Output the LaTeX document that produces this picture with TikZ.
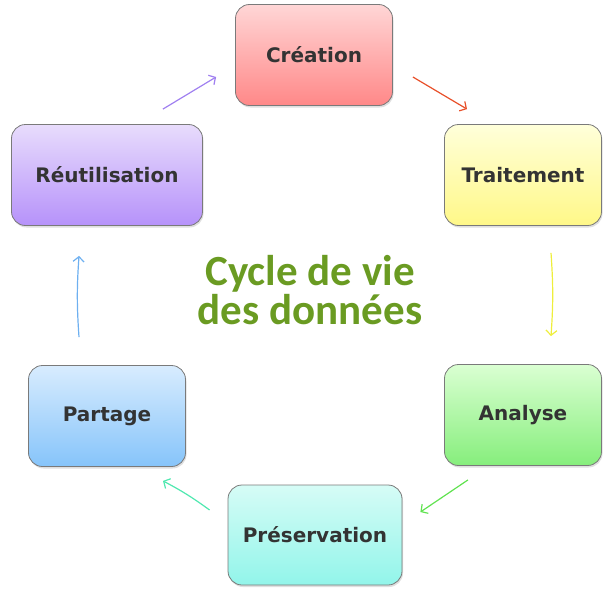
\documentclass[tikz,border=0pt]{standalone}
\usepackage{fontspec}
\newfontfamily\stagefont{DejaVu Sans}
\newfontfamily\titlefont{Carlito}
\usetikzlibrary{arrows.meta,shadows}

\definecolor{txtgray}{HTML}{333333}
\definecolor{titlegreen}{HTML}{6A9B22}
% box fills, top and bottom
\definecolor{creaTop}{RGB}{255,214,214}   \definecolor{creaBot}{RGB}{255,136,136}
\definecolor{traiTop}{RGB}{255,255,218}   \definecolor{traiBot}{RGB}{255,248,136}
\definecolor{analTop}{RGB}{218,255,210}   \definecolor{analBot}{RGB}{134,238,124}
\definecolor{presTop}{RGB}{214,252,246}   \definecolor{presBot}{RGB}{146,245,234}
\definecolor{partTop}{RGB}{216,236,254}   \definecolor{partBot}{RGB}{134,196,250}
\definecolor{reutTop}{RGB}{232,220,252}   \definecolor{reutBot}{RGB}{182,146,250}
% arrow colours
\definecolor{creaArrow}{RGB}{232,80,42}
\definecolor{traiArrow}{RGB}{238,238,60}
\definecolor{analArrow}{RGB}{96,226,80}
\definecolor{presArrow}{RGB}{80,232,176}
\definecolor{partArrow}{RGB}{110,176,240}
\definecolor{reutArrow}{RGB}{160,128,240}

\tikzset{
    stage/.style 2 args={draw=black!52, line width=0.8pt, rounded corners=14pt,
        top color=#1, bottom color=#2, minimum width=157pt, minimum height=101pt,
        font=\stagefont\bfseries\fontsize{20}{24}\selectfont, text=txtgray,
        drop shadow={opacity=0.25, shadow xshift=1pt, shadow yshift=-2pt}},
    flow/.style={line width=1.2pt, -{Straight Barb[length=5pt,width=11pt]}}
}

\begin{document}
\begin{tikzpicture}[x=1pt, y=-1pt]
    \useasboundingbox (0,0) rectangle (615,594);

    % Stages
    \node [stage={creaTop}{creaBot}] (creation) at (314,55) {Création};
    \node [stage={traiTop}{traiBot}] (traitement) at (523,175) {Traitement};
    \node [stage={analTop}{analBot}] (analyse) at (523,415) {Analyse};
    \node [stage={presTop}{presBot}, minimum width=174pt, minimum height=100pt] (preservation) at (315,535) {Préservation};
    \node [stage={partTop}{partBot}] (partage) at (107,416) {Partage};
    \node [stage={reutTop}{reutBot}, minimum width=191pt] (reutilisation) at (107,175) {Réutilisation};

    % Title
    \node [font=\titlefont\bfseries\fontsize{43}{39}\selectfont, text=titlegreen, align=center] (title) at (310,290) {Cycle de vie\\des données};

    % Arrows round the cycle
    \draw [flow, draw=creaArrow] ([shift={(20,22)}]creation.east) -- ([shift={(-56,-15)}]traitement.north);
    \draw [flow, draw=traiArrow] ([shift={(28,27)}]traitement.south) to[bend left=4] ([shift={(28,-28)}]analyse.north);
    \draw [flow, draw=analArrow] ([shift={(-55,14)}]analyse.south) -- ([shift={(18,-23)}]preservation.east);
    \draw [flow, draw=presArrow] ([shift={(-18,-25)}]preservation.west) to[bend right=4] ([shift={(56,14)}]partage.south);
    \draw [flow, draw=partArrow] ([shift={(-28,-28)}]partage.north) to[bend left=4] ([shift={(-28,30)}]reutilisation.south);
    \draw [flow, draw=reutArrow] ([shift={(-40,-15)}]reutilisation.north east) -- ([shift={(-19,22)}]creation.west);
\end{tikzpicture}
\end{document}
